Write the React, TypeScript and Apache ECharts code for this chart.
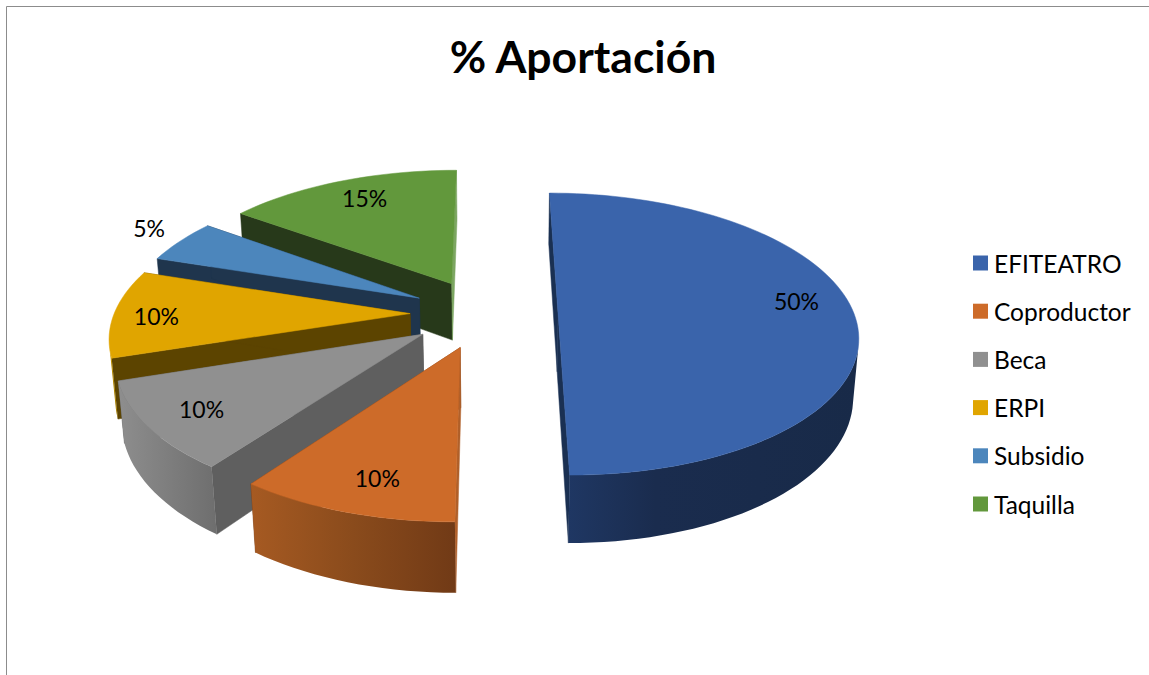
import React, { useEffect, useRef } from "react";
import * as echarts from "echarts";

const categories = ["EFITEATRO", "Coproductor", "Beca", "ERPI", "Subsidio", "Taquilla"];
const values = [50, 10, 10, 10, 5, 15];
const topColors = ["#3A64AB", "#CD6B29", "#909090", "#E0A500", "#4C86BC", "#62983C"];
const startCutColors = ["#1A3052", "#B0602A", "#5F5F5F", "#5C4400", "#1F354D", "#27391A"];
const endCutColors = ["#1A3052", "#7A3F16", "#5F5F5F", "#5C4400", "#1F354D", "#7DA662"];
const wallLeft = ["#1F3763", "#A65A22", "#8E8E8E", "#C89600", "#2C4F72", "#3B5C24"];
const wallMid = ["#1A2C4E", "#8A4B1C", "#7E7E7E", "#B08600", "#2C4F72", "#3B5C24"];
const wallRight = ["#182A48", "#713A16", "#6E6E6E", "#A07A00", "#2C4F72", "#3B5C24"];
const labelRadius = [0.825, 0.81, 0.82, 0.855, 1.17, 0.81];
const labelShift = [-6.5, -1.7, 0, -1, 2, 1.5];

const TOTAL = values.reduce((a, b) => a + b, 0);
const VX = 490, VY = -636, Z0 = 6.88, SX = 2036, SY = 6533, DEPTH = 400;
const CENTER_U = -0.02, EXPLODE = 0.25;
const rad = (d: number) => (d * Math.PI) / 180;

function project(u: number, v: number, drop: boolean) {
  const z = Z0 - v;
  const x = VX + (SX * u) / z;
  const y = VY + SY / z;
  if (!drop) return [x, y];
  const d = DEPTH / z;
  return [x + (500 - x) * 0.018 * (d / 68), y + d];
}

function arcRange(start: number, end: number) {
  const n = Math.max(2, Math.ceil((end - start) / 2));
  const out: number[] = [];
  for (let i = 0; i <= n; i++) out.push(start + ((end - start) * i) / n);
  return out;
}

function makeRender(index: number) {
  return (_params: any, api: any) => {
    const value = api.value(0);
    const before = values.slice(0, index).reduce((a, b) => a + b, 0);
    const start = (before / TOTAL) * 360;
    const end = start + (value / TOTAL) * 360;
    const mid = (start + end) / 2;
    const ou = CENTER_U + EXPLODE * Math.sin(rad(mid));
    const ov = -EXPLODE * Math.cos(rad(mid));
    const rim = (a: number, r = 1): [number, number] => [ou + r * Math.sin(rad(a)), ov - r * Math.cos(rad(a))];
    const pt = (a: number, drop: boolean) => {
      const [u, v] = rim(a);
      return project(u, v, drop);
    };
    const apexTop = project(ou, ov, false);
    const apexLow = project(ou, ov, true);
    const children: any[] = [];
    const cuts = [
      { a: start, c: startCutColors[index] },
      { a: end, c: endCutColors[index] },
    ].sort((p, q) => Math.abs(pt(q.a, false)[0] - apexTop[0]) - Math.abs(pt(p.a, false)[0] - apexTop[0]));
    cuts.forEach(({ a, c }) => {
      children.push({
        type: "polygon",
        silent: true,
        shape: { points: [apexTop, pt(a, false), pt(a, true), apexLow] },
        style: { fill: c, stroke: c, lineWidth: 0.5 },
      });
    });
    const angles = arcRange(start, end).filter((a) => pt(a + 0.5, false)[0] < pt(a, false)[0]);
    if (angles.length > 1) {
      const pts = angles.map((a) => pt(a, false)).concat(angles.slice().reverse().map((a) => pt(a, true)));
      children.push({
        type: "polygon",
        silent: true,
        shape: { points: pts },
        style: {
          fill: {
            type: "linear", x: 0, y: 0, x2: 1, y2: 0,
            colorStops: [
              { offset: 0, color: wallLeft[index] },
              { offset: index === 0 ? 0.3 : 0.5, color: wallMid[index] },
              { offset: 1, color: wallRight[index] },
            ],
          },
        },
      });
    }
    const top = arcRange(start, end).map((a) => pt(a, false));
    children.push({
      type: "polygon",
      silent: true,
      shape: { points: [apexTop, ...top] },
      style: { fill: topColors[index], stroke: topColors[index], lineWidth: 0.5 },
    });
    const la = mid + labelShift[index];
    const [lu, lv] = rim(la, labelRadius[index]);
    const lp = project(lu, lv, false);
    children.push({
      type: "text",
      silent: true,
      z2: 10,
      style: {
        text: `${value}%`,
        x: lp[0],
        y: lp[1],
        fill: "#000",
        font: "23px Lato",
        textAlign: "center",
        textVerticalAlign: "middle",
      },
    });
    return { type: "group", children };
  };
}

export default function App() {
  const ref = useRef<HTMLDivElement>(null);
  useEffect(() => {
    const chart = echarts.init(ref.current!, null, { renderer: "svg" });
    chart.setOption({
      animation: false,
      backgroundColor: "#fff",
      title: {
        text: "% Aportación",
        left: 583,
        top: 33,
        padding: 0,
        textAlign: "center",
        textStyle: { fontFamily: "Lato", fontWeight: "bold", fontSize: 44.5, color: "#000" },
      },
      legend: {
        orient: "vertical",
        left: 973,
        top: 250.5,
        padding: 0,
        itemWidth: 15,
        itemHeight: 15,
        itemGap: 23.2,
        data: categories,
        icon: "rect",
        selectedMode: false,
        textStyle: { fontFamily: "Lato", fontSize: 24.5, color: "#000", lineHeight: 15, padding: [0, 0, 0, 1] },
      },
      graphic: [
        {
          type: "polyline",
          silent: true,
          z: -1,
          shape: { points: [[6.5, 675], [6.5, 6.5], [1149, 6.5]] },
          style: { stroke: "#8C8C8C", lineWidth: 1, fill: "none" },
        },
      ],
      series: categories.map((name, i) => {
        const mid = ((values.slice(0, i).reduce((a, b) => a + b, 0) + values[i] / 2) / TOTAL) * 360;
        return {
          type: "custom",
          name,
          coordinateSystem: "none",
          z: 100 + Math.round(-EXPLODE * Math.cos(rad(mid)) * 100),
          itemStyle: { color: topColors[i] },
          data: [[values[i]]],
          renderItem: makeRender(i),
        };
      }),
    });
    return () => chart.dispose();
  }, []);
  return <div ref={ref} style={{ position: "absolute", left: 0, top: 0, width: 1149, height: 675 }} />;
}
